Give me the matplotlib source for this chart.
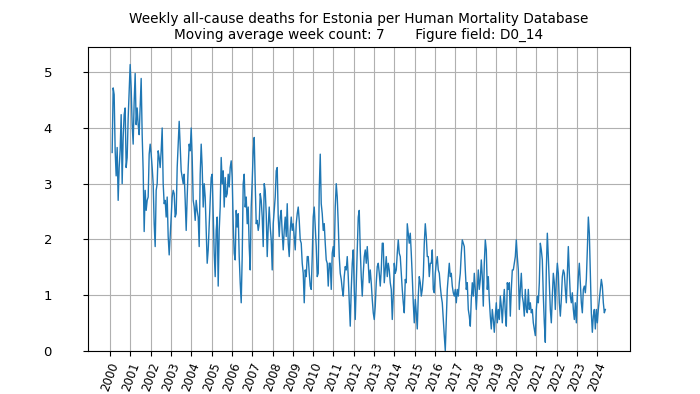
import matplotlib
matplotlib.use("Agg")
import matplotlib.pyplot as plt
import pandas as pd

# 7-week moving average of weekly deaths (age 0-14), sampled every 18 days
start_date = "2000-02-06"
sample_step = "18D"

part_2000 = [3.56, 4.72, 4.60, 3.59, 3.14, 3.65, 2.70, 3.29, 3.60, 4.24, 3.00, 3.83, 4.24, 4.36,
             3.29, 3.47, 4.18, 4.66, 5.14, 4.72, 4.06, 3.71, 4.48, 4.98, 4.06, 4.36, 4.06, 3.88,
             4.36, 4.89, 3.88, 3.23, 2.14, 2.88, 2.52, 2.70, 2.76, 3.53]
part_2002 = [3.71, 3.53, 3.29, 3.00, 2.28, 1.87, 2.88, 3.00, 3.59, 3.47, 3.29, 3.59, 4.00, 3.00,
             2.64, 2.70, 2.40, 2.76, 2.05, 1.72, 2.05, 2.40, 2.76, 2.88, 2.82, 2.40, 2.46, 3.29,
             3.71, 4.12, 3.65, 3.23, 3.11, 3.00, 3.17, 2.70, 2.16, 2.76, 3.29, 3.71, 3.59, 4.00,
             3.47, 2.70, 2.58, 2.34]
part_2004 = [2.70, 2.52, 2.40, 1.87, 3.17, 3.71, 3.29, 2.58, 3.00, 2.76, 2.16, 1.57, 1.81, 2.28,
             2.70, 3.11, 3.17, 2.46, 1.75, 1.33, 2.16, 2.40, 1.16, 2.16, 2.58, 3.47, 3.00, 3.23,
             2.58, 3.11, 2.76, 2.82, 3.17, 2.94, 3.29, 3.41, 3.11, 2.28, 1.75, 1.63, 2.52, 2.22,
             2.46, 1.69, 1.22, 0.86]
part_2006 = [1.69, 3.00, 3.17, 2.58, 2.76, 2.28, 2.58, 1.87, 1.45, 2.58, 3.05, 3.59, 3.83, 3.00,
             2.28, 2.34, 2.16, 2.28, 2.82, 2.70, 2.40, 1.87, 3.00, 2.88, 2.46, 1.69, 2.22, 2.58,
             2.22, 1.99, 1.45, 2.28, 2.52, 2.76, 3.23, 3.29, 2.40, 2.05, 2.40, 2.52, 2.11, 1.81,
             2.16, 2.40, 2.05, 2.64]
part_2008 = [1.93, 1.69, 2.16, 2.40, 2.16, 2.28, 2.05, 1.81, 2.28, 2.46, 2.58, 2.34, 1.99, 1.93,
             1.57, 1.39, 0.86, 1.45, 1.33, 1.69, 1.69, 1.39, 1.16, 1.10, 1.69, 2.40, 2.58, 2.22,
             1.87, 1.33, 1.39, 2.88, 3.53, 2.64, 2.46, 2.16, 2.28, 1.93, 1.63, 1.57, 1.16, 1.57,
             1.57, 1.10, 1.75, 1.87]
part_2011 = [1.69, 2.58, 3.00, 2.76, 2.28, 1.69, 1.39, 1.28, 1.10, 0.98, 1.33, 1.51, 1.45, 1.69,
             1.33, 0.86, 0.44, 1.10, 1.57, 1.81, 1.10, 0.56, 1.22, 1.81, 2.40, 2.52, 1.81, 1.33,
             0.98, 1.39, 1.69, 1.81, 1.57, 1.87, 1.57, 1.22, 1.45, 1.22, 0.92, 0.68, 0.56, 0.80,
             1.22, 1.51, 1.57, 1.39]
part_2013 = [1.16, 1.45, 1.93, 1.93, 1.22, 1.45, 1.69, 1.33, 1.57, 1.45, 1.22, 1.10, 0.56, 0.98,
             1.57, 1.39, 1.45, 1.75, 1.99, 1.75, 1.69, 1.39, 1.10, 0.86, 0.68, 1.28, 1.22, 2.28,
             2.11, 1.93, 2.11, 1.75, 1.33, 0.86, 0.50, 0.92, 0.68, 0.39, 0.98, 1.33, 1.22, 0.98,
             1.10, 1.33, 1.93, 2.28]
part_2015 = [2.05, 1.69, 1.69, 1.33, 1.57, 1.57, 1.81, 1.10, 1.04, 1.39, 1.57, 1.69, 1.45, 1.39,
             1.16, 0.98, 0.86, 0.56, 0.27, 0.00, 0.56, 1.10, 1.33, 1.57, 1.33, 1.39, 1.16, 1.04,
             0.98, 1.10, 0.86, 1.10, 0.98, 1.22, 1.39, 1.75, 1.99, 1.93, 1.87, 1.45, 1.10, 1.22,
             0.74, 0.62, 0.44, 0.92]
part_2017 = [1.22, 0.98, 1.39, 1.10, 0.74, 1.10, 1.45, 1.10, 1.28, 1.63, 1.33, 0.80, 1.57, 1.99,
             1.81, 1.10, 1.33, 0.92, 0.62, 0.39, 0.74, 0.56, 0.33, 0.62, 0.86, 0.50, 0.74, 0.56,
             0.98, 0.80, 0.50, 0.86, 1.10, 0.68, 0.44, 1.22, 1.10, 1.22, 0.62, 1.10, 1.45, 1.45,
             1.57, 1.69, 1.99, 1.69]
part_2020 = [1.45, 0.74, 1.10, 1.39, 0.98, 0.86, 0.62, 1.10, 0.74, 0.68, 1.10, 0.74, 0.86, 0.68,
             0.74, 0.50, 0.39, 0.27, 0.74, 0.98, 0.86, 1.22, 1.93, 1.81, 1.63, 0.98, 0.50, 0.15,
             1.45, 2.11, 1.69, 1.22, 0.74, 0.50, 0.98, 1.39, 1.22, 0.74, 1.28, 1.57, 1.39, 0.86,
             0.62, 0.92, 1.33, 1.45]
part_2022 = [1.39, 1.10, 0.86, 1.39, 1.87, 1.39, 0.98, 0.86, 1.04, 0.74, 0.56, 0.86, 0.50, 0.98,
             1.33, 1.57, 1.22, 0.86, 0.68, 1.10, 1.16, 1.04, 1.28, 1.81, 2.40, 2.11, 1.39, 0.68,
             0.33, 0.62, 0.74, 0.39, 0.74, 0.50, 0.74, 0.92, 1.10, 1.28, 1.16, 0.86, 0.68, 0.74]

year_ticks = list(range(2000, 2025))
y_ticks = [0, 1, 2, 3, 4, 5]

title_text = ("Weekly all-cause deaths for Estonia per Human Mortality Database\n"
              "Moving average week count: 7       Figure field: D0_14")

values = (part_2000 + part_2002 + part_2004 + part_2006 + part_2008 + part_2011 +
          part_2013 + part_2015 + part_2017 + part_2020 + part_2022)
dates = pd.date_range(start_date, periods=len(values), freq=sample_step)

fig, ax = plt.subplots(figsize=(7, 3.94), dpi=100)
ax.plot(dates, values, color="#1f77b4", linewidth=1.0)
ax.set_xticks([pd.Timestamp(f"{y}-01-01") for y in year_ticks])
ax.set_xticklabels([str(y) for y in year_ticks], rotation=70, fontsize=8.5)
ax.set_yticks(y_ticks)
ax.set_yticklabels([f"{v}" + " " * 6 for v in y_ticks], fontsize=9.5)
ax.set_ylim(0, 5.45)
ax.grid(True)
ax.set_title(title_text, fontsize=9.8)
fig.savefig("out.png", dpi=100)
